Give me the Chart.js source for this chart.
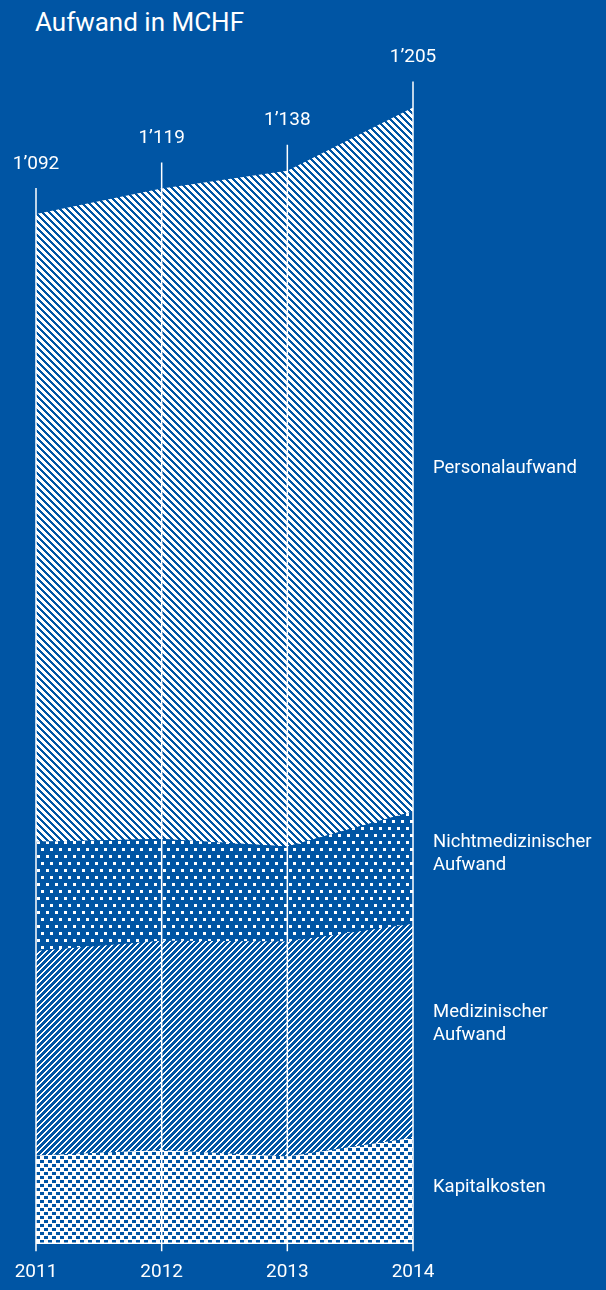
<!DOCTYPE html>
<html>
<head>
<meta charset="utf-8">
<script src="https://cdn.jsdelivr.net/npm/chart.js@4"></script>
<style>
html,body{margin:0;padding:0;background:#0055a4;}
#wrap{position:relative;width:606px;height:1290px;}
#title{position:absolute;left:35px;top:7px;color:#fff;font-size:26px;font-family:'Liberation Sans Narrow',Roboto,sans-serif;}
canvas{position:absolute;left:0;top:0;}
</style>
</head>
<body>
<div id="wrap">
<div id="title">Aufwand in MCHF</div>
<canvas id="chart" width="606" height="1290"></canvas>
</div>
<script>
// =============================
// DATA (MCHF)
// =============================
const years = ["2011","2012","2013","2014"]
const kapitalkosten = [93, 99, 92, 112]
const medizinisch = [217, 222, 228, 227]
const nichtmedizinisch = [116, 108, 101, 119]
const personal = [666, 690, 717, 747]
const seriesNames = [["Kapitalkosten"], ["Medizinischer","Aufwand"], ["Nichtmedizinischer","Aufwand"], ["Personalaufwand"]]

const BLUE = "#0055a4"
const FONT = "'Liberation Sans Narrow', Roboto, sans-serif"

// =============================
// Patterns
// =============================
function makePattern(w, h, isWhite){
let c = document.createElement("canvas")
c.width = w
c.height = h
let x = c.getContext("2d")
x.fillStyle = BLUE
x.fillRect(0,0,w,h)
x.fillStyle = "#ffffff"
for(let i=0;i<w;i++){
for(let j=0;j<h;j++){
if(isWhite(i,j)) x.fillRect(i,j,1,1)
}
}
return x.createPattern(c,"repeat")
}

let ctx = document.getElementById("chart").getContext("2d")

// "\" stripes
let patPersonal = makePattern(7,7,(i,j)=> ((i-j)%7+7)%7 < 4)
// white dots
let patNicht = makePattern(9,14,(i,j)=> (i>=1&&i<4&&j>=1&&j<4) || (i>=5&&i<8&&j>=8&&j<11))
// "/" thin stripes
let patMed = makePattern(6,6,(i,j)=> (i+j)%6 < 2)
// checker
let patKap = makePattern(8,8,(i,j)=> !((i<4&&j<3) || (i>=4&&j>=4&&j<7)))

// =============================
// Overlay: year lines, totals, labels
// =============================
const overlay = {
id:"overlay",
afterDatasetsDraw(chart){
let c = chart.ctx
let xs = chart.scales.x
let ys = chart.scales.y
let area = chart.chartArea
let sets = chart.data.datasets

c.save()
c.strokeStyle = "#ffffff"
c.fillStyle = "#ffffff"

// baseline
c.lineWidth = 1.5
c.beginPath()
c.moveTo(area.left, area.bottom)
c.lineTo(area.right, area.bottom)
c.stroke()

c.font = "19px " + FONT
c.textAlign = "center"
c.textBaseline = "middle"

years.forEach((yr,i)=>{
let total = 0
sets.forEach(ds=> total += ds.data[i])
let px = xs.getPixelForValue(i)
let top = ys.getPixelForValue(total)
c.beginPath()
c.moveTo(px, area.bottom + 8)
c.lineTo(px, top - 26)
c.stroke()
let txt = String(total).replace(/\B(?=(\d{3})+(?!\d))/g, "\u2019")
c.fillText(txt, px, top - 50)
})

// series labels on the right
let offsets = [-3, -7, -14, 9]
let last = years.length - 1
let below = 0
c.font = "18.5px " + FONT
c.textAlign = "left"
sets.forEach((ds,k)=>{
let v = ds.data[last]
let mid = ys.getPixelForValue(below + v/2) + offsets[k]
let lines = seriesNames[k]
lines.forEach((ln,n)=>{
c.fillText(ln, area.right + 20, mid + (n - (lines.length-1)/2) * 23)
})
below += v
})

c.restore()
}
}

// =============================
// Chart
// =============================
new Chart(ctx,{

type:"line",

data:{
labels:years,
datasets:[
{label:"Kapitalkosten", data:kapitalkosten, backgroundColor:patKap, fill:"origin"},
{label:"Medizinischer Aufwand", data:medizinisch, backgroundColor:patMed, fill:"-1"},
{label:"Nichtmedizinischer Aufwand", data:nichtmedizinisch, backgroundColor:patNicht, fill:"-1"},
{label:"Personalaufwand", data:personal, backgroundColor:patPersonal, fill:"-1"}
]
},

options:{

responsive:false,
animation:false,

layout:{
padding:{left:36, right:193, top:18, bottom:-12}
},

elements:{
line:{borderWidth:0, tension:0},
point:{radius:0}
},

plugins:{
legend:{display:false},
tooltip:{enabled:false}
},

scales:{
x:{
offset:false,
grid:{display:false, drawTicks:false},
border:{display:false},
afterFit(scale){
scale.paddingLeft = 0
scale.paddingRight = 0
},
ticks:{
color:"white",
padding:18,
maxRotation:0,
font:{size:19, family:FONT}
}
},
y:{
display:false,
stacked:true,
min:0,
max:1300
}
}

},

plugins:[overlay]

})
</script>
</body>
</html>
